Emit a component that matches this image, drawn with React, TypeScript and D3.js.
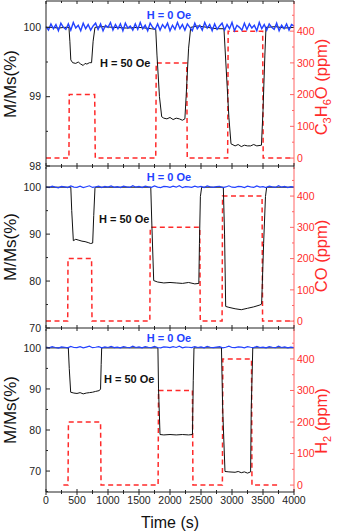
import React from 'react';
import * as d3 from 'd3';

const W = 340;
const H = 531;

// x axis (time, s)
const timeTicks = [0, 500, 1000, 1500, 2000, 2500, 3000, 3500, 4000];
const timeMinor = [250, 750, 1250, 1750, 2250, 2750, 3250, 3750];

// gas names (right axis)
const gasLabels = [['C', '3', 'H', '6', 'O'], ['CO'], ['H', '2']];
const ppmTicks = [0, 100, 200, 300, 400];

// left axis ticks per panel
const magTicks = [[98, 99, 100], [70, 80, 90, 100], [70, 80, 90, 100]];

// H = 0 Oe, sampled every blueStep seconds
const blueStep1 = 40;
const blue1 = [100.01, 99.96, 100.05, 99.98, 100.04, 99.95, 100.06, 100.0, 99.97, 100.05, 99.96, 100.07, 99.99, 100.03, 99.95, 100.06, 99.98, 100.04, 99.96, 100.02, 100.06, 99.97, 100.05, 99.95, 100.03, 100.0, 100.07, 99.96, 100.04, 99.98, 100.05, 99.95, 100.06, 99.99, 100.02, 99.96, 100.05, 99.97, 100.07, 99.98, 100.03, 99.95, 100.06, 100.0, 99.97, 100.05, 99.96, 100.04, 99.99, 100.06, 99.95, 100.03, 99.97, 100.07, 99.98, 100.04, 99.96, 100.05, 100.0, 99.95, 100.06, 99.98, 100.03, 99.96, 100.07, 99.99, 100.04, 99.95, 100.05, 99.97, 100.02, 100.06, 99.96, 100.04, 99.98, 100.07, 99.95, 100.03, 100.0, 99.96, 100.06, 99.97, 100.05, 99.99, 100.03, 99.95, 100.07, 99.98, 100.04, 99.96, 100.05, 100.0, 99.97, 100.06, 99.95, 100.03, 99.98, 100.05, 99.96, 100.04, 100.02];
const blueStep = 50;
const blue2 = [100.1, 99.9, 100.2, 100.0, 99.85, 100.15, 100.05, 99.9, 100.25, 100.0, 99.95, 100.2, 99.9, 100.1, 100.3, 99.95, 100.05, 100.2, 99.9, 100.15, 100.0, 100.25, 99.95, 100.1, 99.9, 100.2, 100.05, 99.95, 100.3, 100.0, 100.15, 99.9, 100.2, 100.05, 99.95, 100.25, 100.0, 99.9, 100.15, 100.1, 99.95, 100.2, 100.0, 100.3, 99.9, 100.1, 100.05, 99.95, 100.2, 100.0, 100.15, 99.9, 100.25, 100.05, 99.95, 100.1, 100.2, 99.9, 100.05, 100.3, 100.0, 99.95, 100.15, 100.1, 99.9, 100.2, 100.05, 99.95, 100.25, 100.0, 100.1, 99.9, 100.2, 100.05, 99.95, 100.3, 100.0, 100.15, 99.9, 100.1, 100.0];
const blue3 = [100.2, 100.0, 100.3, 100.1, 99.95, 100.25, 100.15, 100.0, 100.35, 100.1, 100.05, 100.3, 100.0, 100.2, 100.4, 100.05, 100.15, 100.3, 100.0, 100.25, 100.1, 100.35, 100.05, 100.2, 100.0, 100.3, 100.15, 100.05, 100.4, 100.1, 100.25, 100.0, 100.3, 100.15, 100.05, 100.35, 100.1, 100.0, 100.25, 100.2, 100.05, 100.3, 100.1, 100.4, 100.0, 100.2, 100.15, 100.05, 100.3, 100.1, 100.25, 100.0, 100.35, 100.15, 100.05, 100.2, 100.3, 100.0, 100.15, 100.4, 100.1, 100.05, 100.25, 100.2, 100.0, 100.3, 100.15, 100.05, 100.35, 100.1, 100.2, 100.0, 100.3, 100.15, 100.05, 100.4, 100.1, 100.25, 100.0, 100.2, 100.1];

// H = 50 Oe  [time, M/Ms]
const black1: [number, number][] = [[0, 100], [100, 100.0], [200, 99.99], [300, 100.0], [370, 100.0], [385, 99.8], [400, 99.53], [430, 99.49], [480, 99.48], [520, 99.5], [560, 99.47], [600, 99.45], [630, 99.48], [660, 99.47], [700, 99.49], [735, 99.49], [760, 99.8], [790, 100.0], [900, 100.01], [1100, 100.0], [1300, 99.99], [1500, 100.0], [1700, 99.98], [1770, 99.97], [1790, 99.6], [1830, 99.0], [1866, 98.71], [1900, 98.69], [1950, 98.68], [2000, 98.7], [2050, 98.67], [2100, 98.69], [2150, 98.68], [2200, 98.66], [2240, 98.68], [2260, 99.0], [2300, 99.7], [2334, 100.0], [2450, 100.02], [2600, 100.0], [2750, 99.98], [2870, 99.98], [2900, 99.5], [2950, 98.7], [2984, 98.32], [3050, 98.29], [3100, 98.31], [3150, 98.28], [3200, 98.3], [3250, 98.29], [3300, 98.29], [3350, 98.31], [3400, 98.29], [3475, 98.3], [3500, 98.8], [3530, 99.6], [3548, 100.0], [3700, 100.01], [3850, 99.99], [4000, 100.0]];
const black2: [number, number][] = [[0, 100], [400, 100], [415, 95], [441, 88.6], [480, 88.9], [530, 88.7], [580, 88.5], [630, 88.4], [680, 88.2], [720, 88.0], [753, 88.1], [770, 94], [790, 99.8], [800, 100], [1690, 100], [1705, 93], [1737, 80.1], [1800, 79.8], [1900, 79.6], [2000, 79.7], [2100, 79.6], [2200, 79.5], [2300, 79.7], [2400, 79.4], [2465, 79.5], [2475, 88], [2490, 98], [2511, 100], [2860, 100], [2880, 90], [2898, 74.6], [2950, 74.4], [3050, 74.1], [3150, 73.9], [3250, 74.2], [3350, 74.5], [3450, 74.9], [3478, 75.1], [3510, 88], [3540, 98], [3559, 100], [4000, 100]];
const black3: [number, number][] = [[0, 100], [360, 100], [375, 95], [398, 89.2], [450, 89], [500, 88.9], [550, 89.1], [600, 88.8], [650, 89], [700, 89.1], [750, 89.2], [800, 89.4], [860, 89.6], [880, 90], [890, 96], [898, 100], [1805, 100], [1815, 90], [1839, 78.9], [1900, 78.8], [2000, 78.9], [2100, 78.8], [2200, 78.9], [2300, 78.8], [2362, 78.9], [2375, 92], [2387, 100], [2830, 100], [2850, 85], [2887, 69.9], [2950, 69.8], [3050, 69.7], [3100, 69.9], [3150, 69.6], [3200, 69.8], [3250, 69.5], [3300, 69.8], [3310, 85], [3335, 100], [4000, 100]];

// gas concentration  [time, ppm]
const gas1: [number, number][] = [[0, 0], [370, 0], [375, 200], [785, 200], [795, 0], [1770, 0], [1778, 300], [2270, 300], [2278, 0], [2930, 0], [2938, 400], [3495, 400], [3503, 0], [3985, 0]];
const gas2: [number, number][] = [[0, 0], [350, 0], [355, 200], [735, 200], [742, 0], [1675, 0], [1682, 300], [2480, 300], [2488, 0], [2840, 0], [2848, 400], [3485, 400], [3493, 0], [4000, 0]];
const gas3: [number, number][] = [[280, 0], [355, 0], [362, 200], [880, 200], [888, 0], [1808, 0], [1815, 300], [2362, 300], [2370, 0], [2845, 0], [2852, 400], [3315, 400], [3322, 0], [3775, 0]];

const FONT = "'Liberation Sans', Arial, sans-serif";
const BLUE = '#2342ff';
const RED = '#ff2a2a';
const RED_AXIS = '#ff6464';

const panels = [
  { top: 1, bottom: 166, mag: [98, 100.38], ppm: [-25, 495], magMinor: 0.5, blue: blue1, bStep: blueStep1, bw: 1.4, black: black1, gas: gas1, hy: 19, h50: [100, 67], titleY: 84, gasY: 87 },
  { top: 167, bottom: 328, mag: [70, 104.3], ppm: [-22, 493], magMinor: 5, blue: blue2, bStep: blueStep, bw: 1.2, black: black2, gas: gas2, hy: 181, h50: [99, 223], titleY: 247, gasY: 256 },
  { top: 329, bottom: 492, mag: [64.9, 104.6], ppm: [-22, 495], magMinor: 5, blue: blue3, bStep: blueStep, bw: 1.2, black: black3, gas: gas3, hy: 342, h50: [104, 383], titleY: 410, gasY: 421 },
];

const x = d3.scaleLinear().domain([0, 4000]).range([46, 294]);

function Panel({ p, i }: { p: any; i: number }) {
  const y = d3.scaleLinear().domain(p.mag).range([p.bottom, p.top]);
  const yr = d3.scaleLinear().domain(p.ppm).range([p.bottom, p.top]);
  const lineM = d3.line<[number, number]>().x(d => x(d[0])).y(d => y(d[1]));
  const lineG = d3.line<[number, number]>().x(d => x(d[0])).y(d => yr(d[1]));
  const bluePts: [number, number][] = p.blue.map((v: number, k: number) => [k * p.bStep, v]);
  const minorMag = d3.range(Math.ceil(p.mag[0] / p.magMinor) * p.magMinor, p.mag[1], p.magMinor);
  const minorPpm = d3.range(0, 500, 50);
  const gas = gasLabels[i];
  return (
    <g>
      <path d={lineG(p.gas) || ''} fill="none" stroke={RED} strokeWidth={1.5} strokeDasharray="5,3.5" />
      <path d={lineM(p.black) || ''} fill="none" stroke="#111" strokeWidth={1} />
      <path d={lineM(bluePts) || ''} fill="none" stroke={BLUE} strokeWidth={p.bw} />
      {/* left axis */}
      <line x1={46} x2={46} y1={p.top} y2={p.bottom} stroke="#222" strokeWidth={1} />
      {minorMag.map((v: number) => {
        const major = magTicks[i].includes(Math.round(v * 100) / 100);
        return <line key={'lm' + v} x1={46} x2={46 + (major ? 4 : 2)} y1={y(v)} y2={y(v)} stroke="#222" />;
      })}
      {magTicks[i].map(v => (
        <text key={'ml' + v} x={41} y={y(v)} dy="0.35em" textAnchor="end" fontSize={10.5} fontFamily={FONT} fill="#222">{v}</text>
      ))}
      {/* right axis */}
      <line x1={294} x2={294} y1={p.top} y2={p.bottom} stroke={RED_AXIS} strokeWidth={1} />
      {minorPpm.map(v => (
        <line key={'rm' + v} x1={294} x2={294 - (v % 100 === 0 ? 4 : 2)} y1={yr(v)} y2={yr(v)} stroke={RED_AXIS} />
      ))}
      {ppmTicks.map(v => (
        <text key={'rl' + v} x={297} y={yr(v)} dy="0.35em" fontSize={10.5} fontFamily={FONT} fill={RED}>{v}</text>
      ))}
      {/* bottom axis */}
      <line x1={46} x2={294} y1={p.bottom} y2={p.bottom} stroke="#222" strokeWidth={1} />
      {timeTicks.map(t => (
        <line key={'bt' + t} x1={x(t)} x2={x(t)} y1={p.bottom - 3} y2={p.bottom + 3} stroke="#222" />
      ))}
      {timeMinor.map(t => (
        <line key={'bm' + t} x1={x(t)} x2={x(t)} y1={p.bottom - 2} y2={p.bottom + 2} stroke="#222" />
      ))}
      {i === 0 && (
        <g>
          <line x1={46} x2={294} y1={p.top} y2={p.top} stroke="#222" strokeWidth={1} />
          {timeTicks.map(t => (
            <line key={'tt' + t} x1={x(t)} x2={x(t)} y1={p.top} y2={p.top + 3} stroke="#222" />
          ))}
          {timeMinor.map(t => (
            <line key={'tm' + t} x1={x(t)} x2={x(t)} y1={p.top} y2={p.top + 2} stroke="#222" />
          ))}
        </g>
      )}
      {/* annotations */}
      <text x={169} y={p.hy} textAnchor="middle" fontSize={11} fontWeight="bold" fontFamily={FONT} fill={BLUE}>H = 0 Oe</text>
      <text x={p.h50[0]} y={p.h50[1]} fontSize={11} fontWeight="bold" fontFamily={FONT} fill="#111">H = 50 Oe</text>
      {/* titles */}
      <text transform={`translate(10,${p.titleY}) rotate(-90)`} textAnchor="middle" dy="0.35em" fontSize={17} fontFamily={FONT} fill="#111">M/Ms(%)</text>
      <text transform={`translate(327,${p.gasY}) rotate(-90)`} textAnchor="middle" dy="0.35em" fontSize={16.5} fontFamily={FONT} fill={RED}>
        {gas.map((s, k) => (k % 2 === 1
          ? <tspan key={k} fontSize={11} dy={4}>{s}</tspan>
          : <tspan key={k} dy={k > 0 ? -4 : 0}>{s}</tspan>))}
        <tspan dy={gas.length > 1 && gas.length % 2 === 0 ? -4 : 0}> (ppm)</tspan>
      </text>
    </g>
  );
}

export default function App() {
  return (
    <svg width={W} height={H} style={{ position: 'absolute', left: 0, top: 0, background: '#fff' }}>
      {panels.map((p, i) => <Panel key={i} p={p} i={i} />)}
      {timeTicks.map(t => (
        <text key={'xl' + t} x={x(t)} y={504} textAnchor="middle" fontSize={10.5} fontFamily={FONT} fill="#222">{t}</text>
      ))}
      <text x={170} y={528} textAnchor="middle" fontSize={16} fontFamily={FONT} fill="#111">Time (s)</text>
    </svg>
  );
}
